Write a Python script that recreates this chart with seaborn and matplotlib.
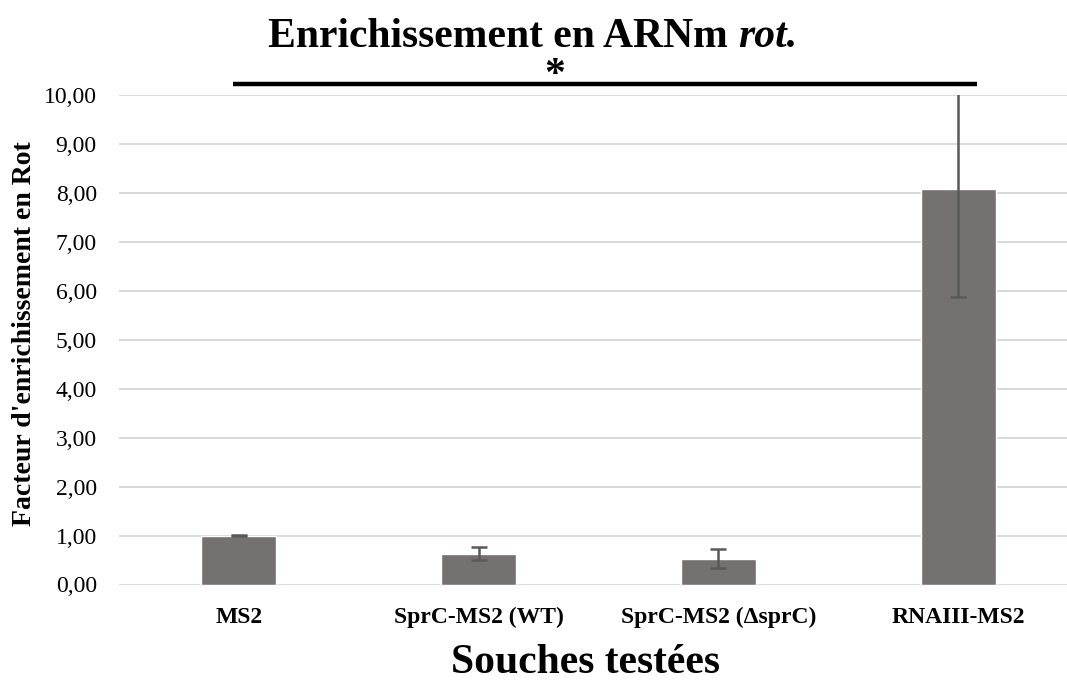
import matplotlib
matplotlib.use("Agg")
import matplotlib.pyplot as plt
import seaborn as sns
import pandas as pd
import numpy as np

# Data
strains = ["MS2", "SprC-MS2 (WT)", "SprC-MS2 (ΔsprC)", "RNAIII-MS2"]
enrichment = [1.00, 0.63, 0.53, 8.08]
errors = [0.01, 0.13, 0.20, 2.21]
y_ticks = [0, 1, 2, 3, 4, 5, 6, 7, 8, 9, 10]

sns.set_theme(style="white")
serif = ["Liberation Serif", "DejaVu Serif"]
plt.rcParams["font.family"] = serif
plt.rcParams.update({"text.color": "black", "axes.labelcolor": "black",
                     "xtick.color": "black", "ytick.color": "black"})

df = pd.DataFrame({"strain": strains, "value": enrichment})

W, H = 1067, 684
fig = plt.figure(figsize=(W / 100, H / 100), dpi=100)
ax = fig.add_axes([119 / W, (H - 584.5) / H, 959 / W, (584.5 - 94.7) / H])

bar_color = "#767171"
sns.barplot(data=df, x="strain", y="value", color=bar_color, width=0.313,
            errorbar=None, saturation=1, ax=ax, zorder=2)
ax.errorbar(np.arange(len(strains)), enrichment, yerr=errors, fmt="none",
            ecolor="#595959", elinewidth=1.8, capsize=6, capthick=1.8, zorder=3)

ax.set_ylim(0, 10)
ax.set_xlim(-0.5, len(strains) - 0.5)
ax.set_yticks(y_ticks)
ax.set_yticklabels([f"{v:.2f}".replace(".", ",") for v in y_ticks], fontsize=17)
ax.set_xticks(range(len(strains)))
ax.set_xticklabels(strains, fontsize=17, fontweight="bold")
ax.tick_params(axis="both", length=0, colors="black")
ax.tick_params(axis="y", pad=16)
ax.tick_params(axis="x", pad=16)
ax.yaxis.grid(True, color="#d9d9d9", linewidth=1.4, zorder=0)
ax.set_axisbelow(True)
for s in ax.spines.values():
    s.set_visible(False)

ax.set_xlabel("Souches testées", fontsize=30, fontweight="bold", color="black")
ax.xaxis.set_label_coords(0.486, -0.122)
ax.set_ylabel("Facteur d'enrichissement en Rot", fontsize=20, fontweight="bold",
              color="black")
ax.yaxis.set_label_coords(-0.085, 0.513)

# Significance bracket between MS2 and RNAIII-MS2
ax.plot([-0.024, 3.078], [10.22, 10.22], color="black", linewidth=3.2,
        clip_on=False, solid_capstyle="butt")
ax.text(1.316, 10.0, "*", ha="center", va="bottom", fontsize=30,
        fontweight="bold", color="black", clip_on=False)

# Title with italic gene name
fig.canvas.draw()
renderer = fig.canvas.get_renderer()
t1 = fig.text(0, 0, "Enrichissement en ARNm ", fontsize=30, fontweight="bold",
              color="black")
t2 = fig.text(0, 0, "rot.", fontsize=30, fontweight="bold", style="italic",
              color="black")
w1 = t1.get_window_extent(renderer).width
w2 = t2.get_window_extent(renderer).width
x0 = 533 - (w1 + w2) / 2
base = (H - 47) / H
t1.set_position((x0 / W, base))
t1.set_va("baseline")
t2.set_position(((x0 + w1) / W, base))
t2.set_va("baseline")

fig.savefig("out.png", dpi=100)
